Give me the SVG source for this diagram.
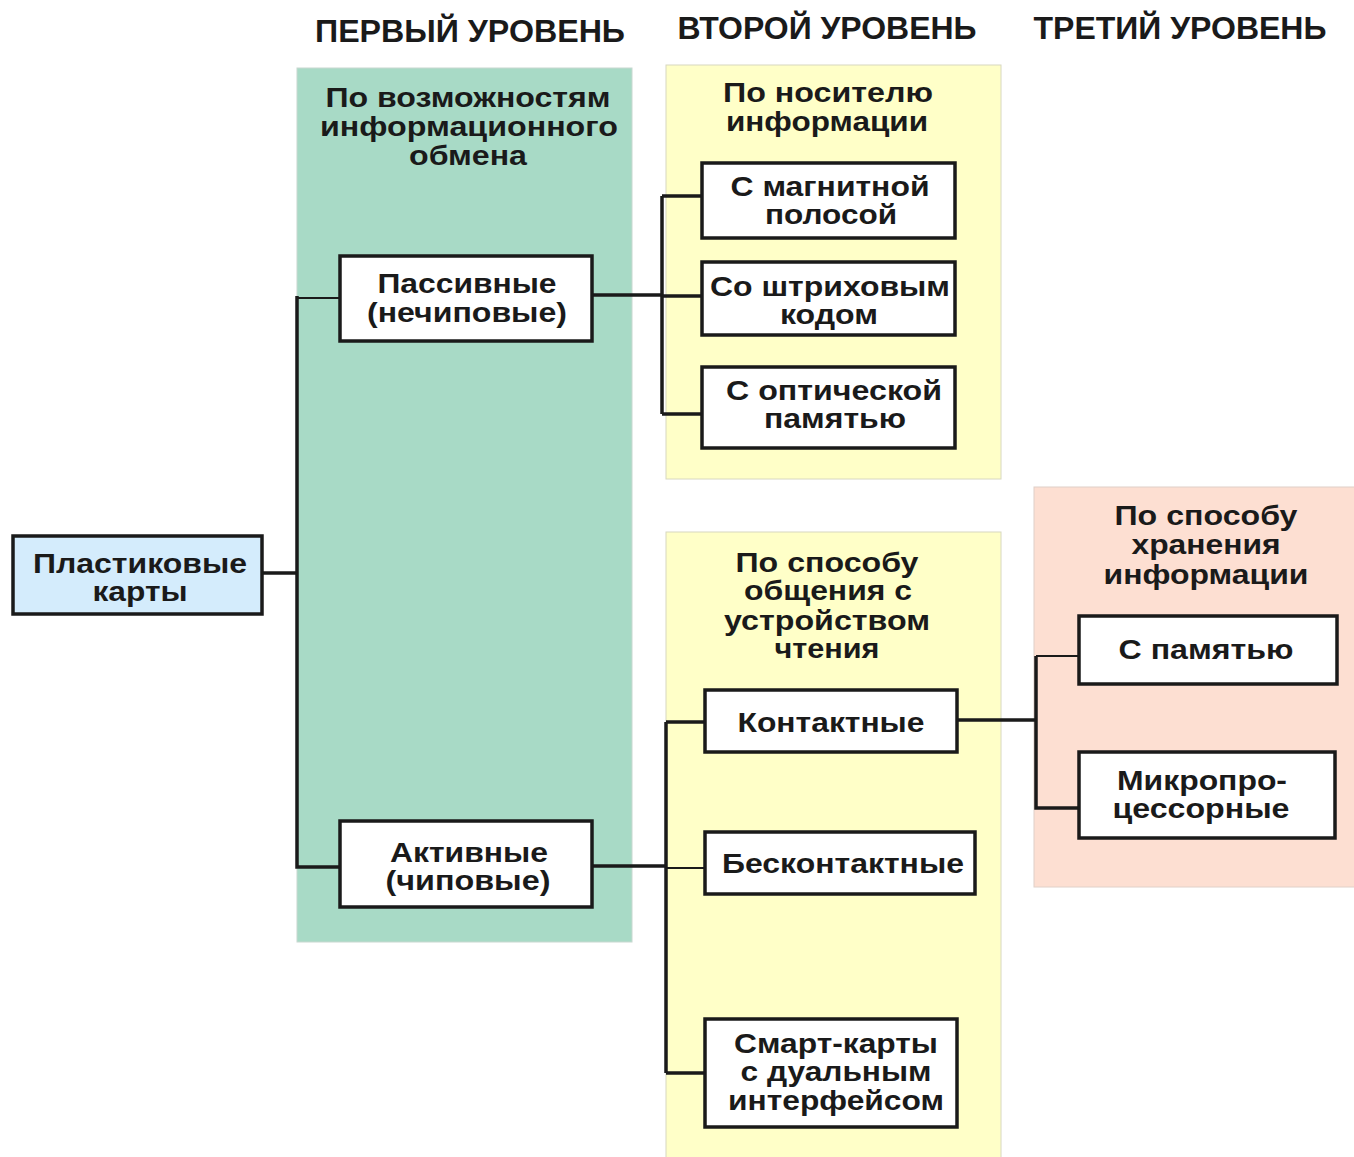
<svg xmlns="http://www.w3.org/2000/svg" width="1354" height="1157" viewBox="0 0 1354 1157">
<style>
text{font-family:"Liberation Sans",Arial,sans-serif;font-weight:bold;fill:#1a1a1a;text-anchor:middle}
.t{font-size:27.5px}
.h{font-size:31px}
.box{stroke:#1a1a1a;stroke-width:3.5;fill:#fff}
.c{stroke:#1a1a1a;fill:none;stroke-width:3.5}
.thin{stroke:#1a1a1a;fill:none;stroke-width:2}
</style>
<rect width="1354" height="1157" fill="#fff"/>
<g id="headers">
<text class="h" x="470" y="42" textLength="310" lengthAdjust="spacingAndGlyphs">ПЕРВЫЙ УРОВЕНЬ</text>
<text class="h" x="827" y="39" textLength="299" lengthAdjust="spacingAndGlyphs">ВТОРОЙ УРОВЕНЬ</text>
<text class="h" x="1180" y="39" textLength="293" lengthAdjust="spacingAndGlyphs">ТРЕТИЙ УРОВЕНЬ</text>
</g>
<g id="panels">
<rect x="297" y="68" width="335" height="874" fill="#a8dac6" stroke="#c8d8d0" stroke-width="1"/>
<rect x="666" y="65" width="335" height="414" fill="#ffffc8" stroke="#d8d8c0" stroke-width="1"/>
<rect x="666" y="532" width="335" height="630" fill="#ffffc8" stroke="#d8d8c0" stroke-width="1"/>
<rect x="1034" y="487" width="325" height="400" fill="#fddfd2" stroke="#e0d0c8" stroke-width="1"/>
<text class="t" x="468" y="107" textLength="285" lengthAdjust="spacingAndGlyphs">По возможностям</text>
<text class="t" x="469" y="136" textLength="298" lengthAdjust="spacingAndGlyphs">информационного</text>
<text class="t" x="468" y="165" textLength="118" lengthAdjust="spacingAndGlyphs">обмена</text>
<text class="t" x="828" y="102" textLength="210" lengthAdjust="spacingAndGlyphs">По носителю</text>
<text class="t" x="827" y="131" textLength="202" lengthAdjust="spacingAndGlyphs">информации</text>
<text class="t" x="827" y="572" textLength="183" lengthAdjust="spacingAndGlyphs">По способу</text>
<text class="t" x="828" y="600" textLength="168" lengthAdjust="spacingAndGlyphs">общения с</text>
<text class="t" x="827" y="630" textLength="206" lengthAdjust="spacingAndGlyphs">устройством</text>
<text class="t" x="827" y="658" textLength="105" lengthAdjust="spacingAndGlyphs">чтения</text>
<text class="t" x="1206" y="525" textLength="183" lengthAdjust="spacingAndGlyphs">По способу</text>
<text class="t" x="1206" y="554" textLength="149" lengthAdjust="spacingAndGlyphs">хранения</text>
<text class="t" x="1206" y="584" textLength="205" lengthAdjust="spacingAndGlyphs">информации</text>
</g>
<g id="connectors">
<path class="c" d="M262 573H297M297 296V867H340"/>
<path class="thin" d="M297 298H340"/>
<path class="c" d="M592 295H662M662 196V414M662 196H702M662 296H702M662 414H702"/>
<path class="c" d="M592 866H666M666 722V1073M666 722H705M666 1073H705"/>
<path class="thin" d="M666 868H705"/>
<path class="c" d="M957 720H1036M1036 656V808H1079"/>
<path class="thin" d="M1036 656H1079"/>
</g>
<g id="n-plastic">
<rect x="13" y="536" width="249" height="78" fill="#d4ecfc" stroke="#1a1a1a" stroke-width="3.5"/>
<text class="t" x="140" y="573" textLength="214" lengthAdjust="spacingAndGlyphs">Пластиковые</text>
<text class="t" x="140" y="601" textLength="95" lengthAdjust="spacingAndGlyphs">карты</text>
</g>
<g id="n-passive">
<rect class="box" x="340" y="256" width="252" height="85"/>
<text class="t" x="467" y="293" textLength="179" lengthAdjust="spacingAndGlyphs">Пассивные</text>
<text class="t" x="467" y="322" textLength="200" lengthAdjust="spacingAndGlyphs">(нечиповые)</text>
</g>
<g id="n-active">
<rect class="box" x="340" y="821" width="252" height="86"/>
<text class="t" x="469" y="862" textLength="158" lengthAdjust="spacingAndGlyphs">Активные</text>
<text class="t" x="468" y="890" textLength="165" lengthAdjust="spacingAndGlyphs">(чиповые)</text>
</g>
<g id="n-magnetic">
<rect class="box" x="702" y="163" width="253" height="75"/>
<text class="t" x="830" y="196" textLength="199" lengthAdjust="spacingAndGlyphs">С магнитной</text>
<text class="t" x="831" y="224" textLength="132" lengthAdjust="spacingAndGlyphs">полосой</text>
</g>
<g id="n-barcode">
<rect class="box" x="702" y="262" width="253" height="73"/>
<text class="t" x="830" y="296" textLength="240" lengthAdjust="spacingAndGlyphs">Со штриховым</text>
<text class="t" x="829" y="324" textLength="98" lengthAdjust="spacingAndGlyphs">кодом</text>
</g>
<g id="n-optical">
<rect class="box" x="702" y="367" width="253" height="81"/>
<text class="t" x="834" y="400" textLength="216" lengthAdjust="spacingAndGlyphs">С оптической</text>
<text class="t" x="835" y="428" textLength="142" lengthAdjust="spacingAndGlyphs">памятью</text>
</g>
<g id="n-contact">
<rect class="box" x="705" y="690" width="252" height="62"/>
<text class="t" x="831" y="732" textLength="187" lengthAdjust="spacingAndGlyphs">Контактные</text>
</g>
<g id="n-contactless">
<rect class="box" x="705" y="832" width="270" height="62"/>
<text class="t" x="843" y="873" textLength="242" lengthAdjust="spacingAndGlyphs">Бесконтактные</text>
</g>
<g id="n-dual">
<rect class="box" x="705" y="1019" width="252" height="108"/>
<text class="t" x="836" y="1053" textLength="204" lengthAdjust="spacingAndGlyphs">Смарт-карты</text>
<text class="t" x="836" y="1081" textLength="191" lengthAdjust="spacingAndGlyphs">с дуальным</text>
<text class="t" x="836" y="1110" textLength="216" lengthAdjust="spacingAndGlyphs">интерфейсом</text>
</g>
<g id="n-memory">
<rect class="box" x="1079" y="616" width="258" height="68"/>
<text class="t" x="1206" y="659" textLength="175" lengthAdjust="spacingAndGlyphs">С памятью</text>
</g>
<g id="n-micro">
<rect class="box" x="1079" y="752" width="256" height="86"/>
<text class="t" x="1202" y="790" textLength="170" lengthAdjust="spacingAndGlyphs">Микропро-</text>
<text class="t" x="1201" y="818" textLength="177" lengthAdjust="spacingAndGlyphs">цессорные</text>
</g>
</svg>
